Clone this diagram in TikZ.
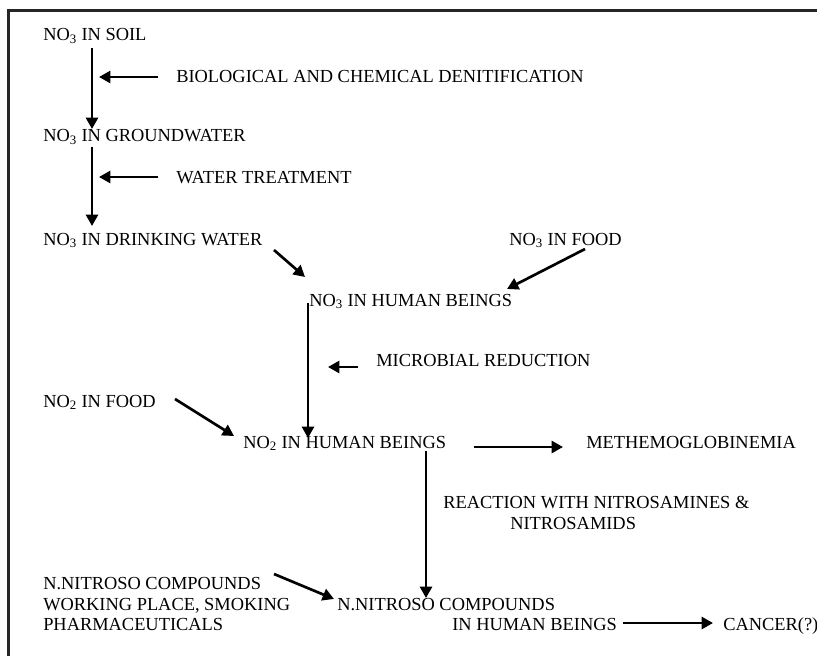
\documentclass[tikz,border=0pt]{standalone}
\usepackage{fontspec}
\setmainfont{Liberation Serif}
\usetikzlibrary{arrows.meta}
\newcommand{\sbs}[1]{\textsubscript{#1}}
\begin{document}
\begin{tikzpicture}[x=0.75pt,y=-0.75pt,
  lbl/.style={anchor=base west,inner sep=0pt,font=\fontsize{13.8}{16}\selectfont},
  arr/.style={line width=2pt,-{Triangle[length=8.5pt,width=9pt]}},
  frame/.style={line width=1.9pt,draw=black!85}]
\useasboundingbox (0,0) rectangle (817,656);
\draw[frame] (8.5,656) -- (8.5,10.5) -- (817,10.5);
% texts
\node[lbl] (soil) at (43,41) {NO\sbs{3} IN SOIL};
\node[lbl] (bio) at (176,83) {BIOLOGICAL AND CHEMICAL DENITIFICATION};
\node[lbl] (ground) at (43,142) {NO\sbs{3} IN GROUNDWATER};
\node[lbl] (treat) at (176,184) {WATER TREATMENT};
\node[lbl] (drink) at (43,245) {NO\sbs{3} IN DRINKING WATER};
\node[lbl] (food3) at (509,245) {NO\sbs{3} IN FOOD};
\node[lbl] (hum3) at (309,306) {NO\sbs{3} IN HUMAN BEINGS};
\node[lbl] (micro) at (376,366) {MICROBIAL REDUCTION};
\node[lbl] (food2) at (43,407) {NO\sbs{2} IN FOOD};
\node[lbl] (hum2) at (243,448) {NO\sbs{2} IN HUMAN BEINGS};
\node[lbl] (meth) at (586,448) {METHEMOGLOBINEMIA};
\node[lbl] (react) at (443,508) {REACTION WITH NITROSAMINES \&};
\node[lbl] (react2) at (510,529) {NITROSAMIDS};
\node[lbl] (src1) at (43,589) {N.NITROSO COMPOUNDS};
\node[lbl] (src2) at (43,610) {WORKING PLACE, SMOKING};
\node[lbl] (src3) at (43,630) {PHARMACEUTICALS};
\node[lbl] (nit1) at (337,610) {N.NITROSO COMPOUNDS};
\node[lbl] (nit2) at (452,630) {IN HUMAN BEINGS};
\node[lbl] (cancer) at (723,630) {CANCER(?)};
% arrow end points
\coordinate (a1s) at (92,48);   \coordinate (a1e) at (92,129);
\coordinate (b1s) at (158,77);  \coordinate (b1e) at (99,77);
\coordinate (a2s) at (92,147);  \coordinate (a2e) at (92,226);
\coordinate (b2s) at (158,177); \coordinate (b2e) at (99,177);
\coordinate (d1s) at (274,250); \coordinate (d1e) at (305,277);
\coordinate (d2s) at (585,249); \coordinate (d2e) at (507,289);
\coordinate (a3s) at (308,303); \coordinate (a3e) at (308,438);
\coordinate (b3s) at (358,367); \coordinate (b3e) at (328,367);
\coordinate (d3s) at (175,399); \coordinate (d3e) at (234,436);
\coordinate (h1s) at (474,447); \coordinate (h1e) at (563,447);
\coordinate (a4s) at (426,451); \coordinate (a4e) at (426,598);
\coordinate (d4s) at (274,574); \coordinate (d4e) at (334,599);
\coordinate (h2s) at (623,623); \coordinate (h2e) at (713,623);
\draw[arr] (a1s) -- (a1e);
\draw[arr] (b1s) -- (b1e);
\draw[arr] (a2s) -- (a2e);
\draw[arr] (b2s) -- (b2e);
\draw[arr] (d1s) -- (d1e);
\draw[arr] (d2s) -- (d2e);
\draw[arr] (a3s) -- (a3e);
\draw[arr] (b3s) -- (b3e);
\draw[arr] (d3s) -- (d3e);
\draw[arr] (h1s) -- (h1e);
\draw[arr] (a4s) -- (a4e);
\draw[arr] (d4s) -- (d4e);
\draw[arr] (h2s) -- (h2e);
\end{tikzpicture}
\end{document}
